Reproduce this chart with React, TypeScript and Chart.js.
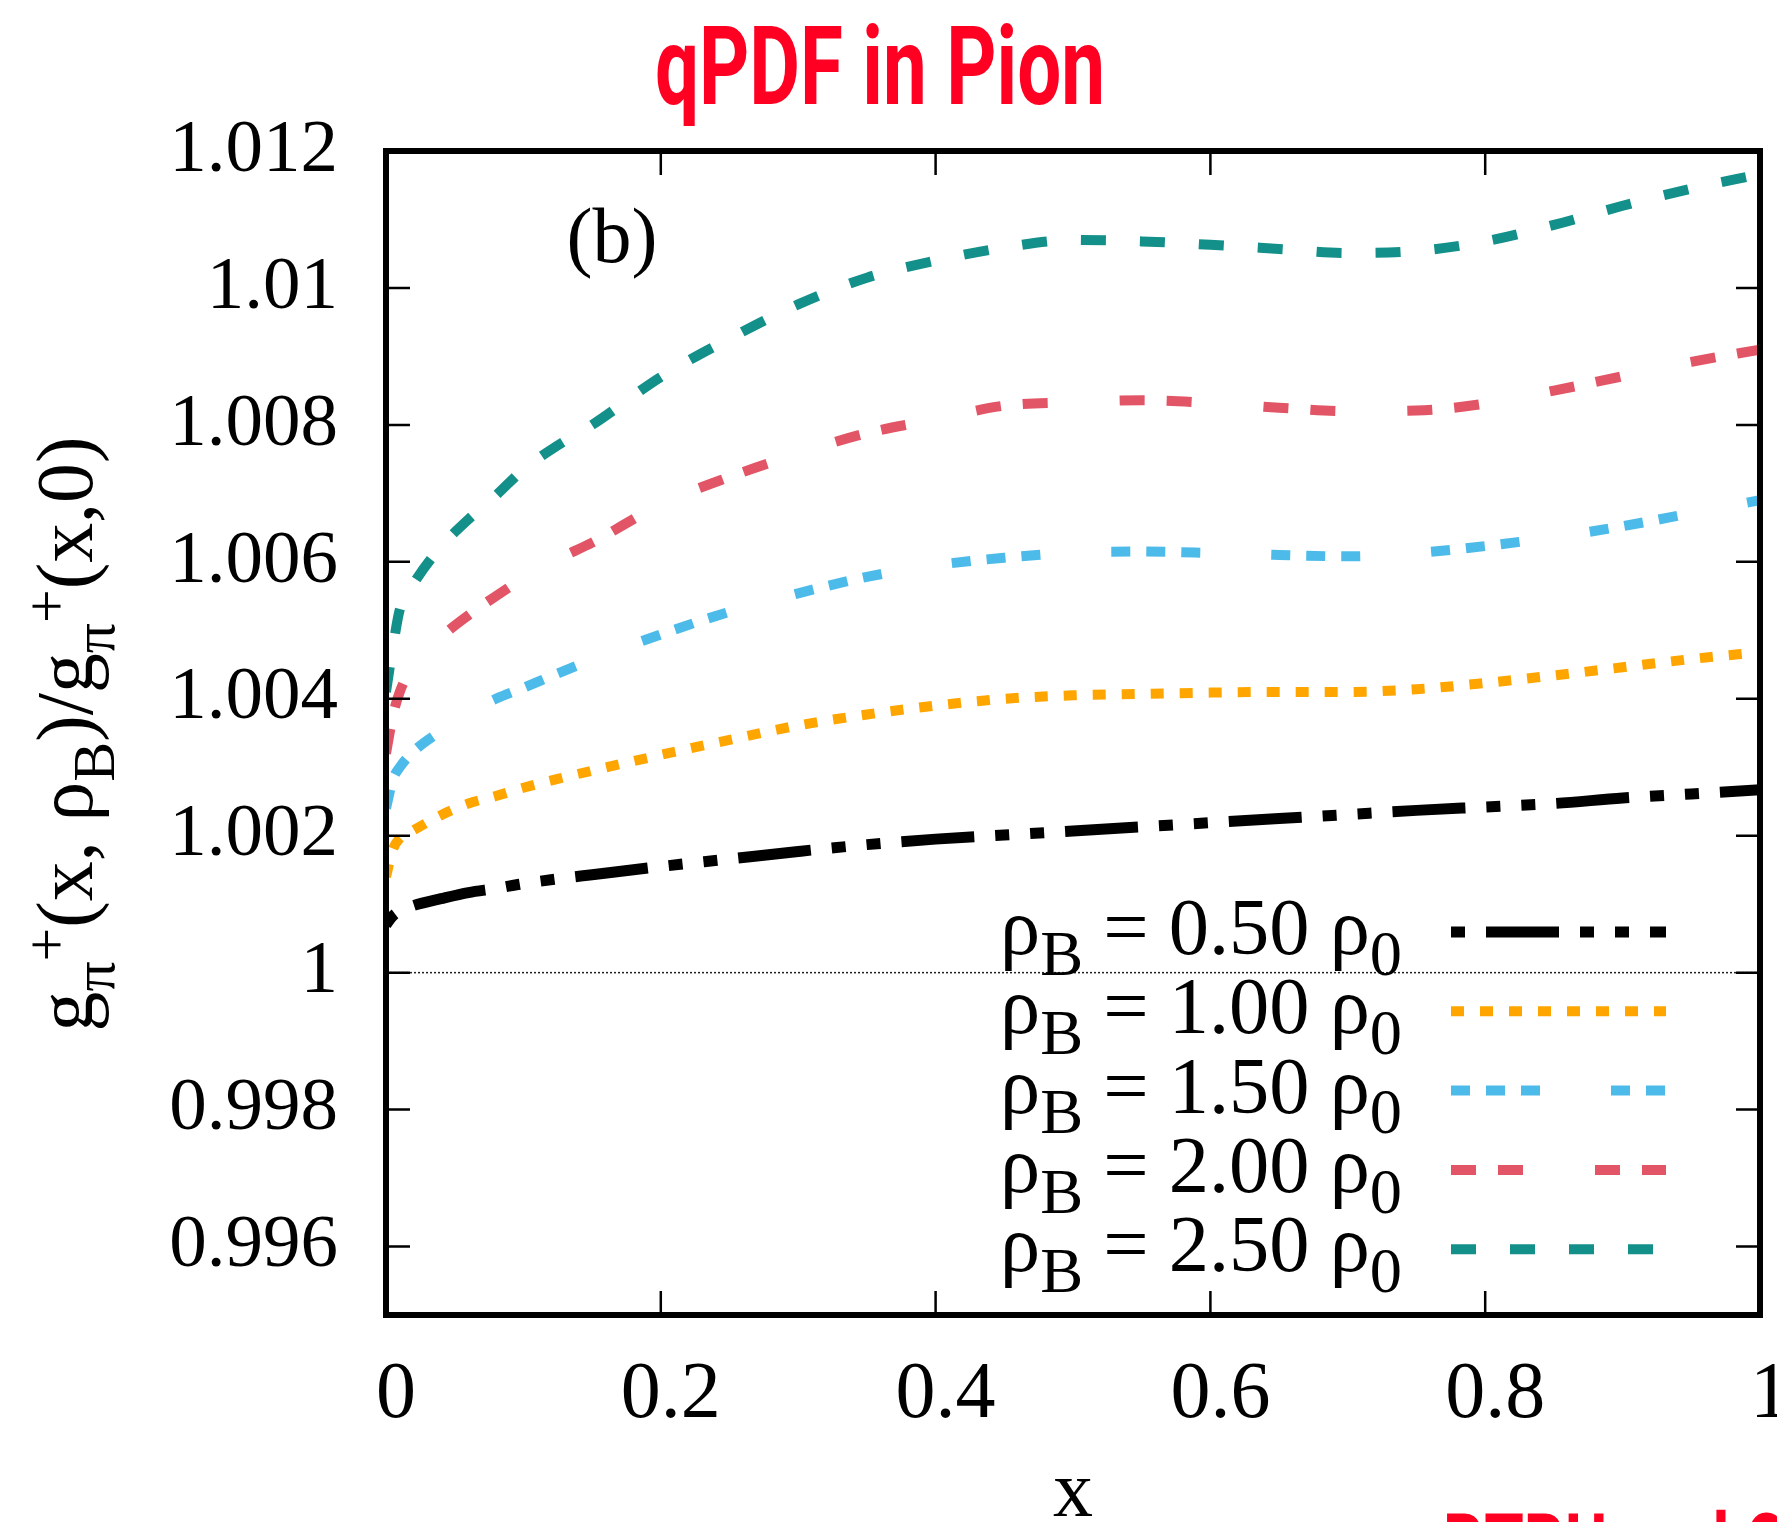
import React, { useEffect, useRef } from "react";
import { Chart, registerables } from "chart.js";

Chart.register(...registerables);

// ---------- data ----------
const xValues = [
  0, 0.005, 0.01, 0.02, 0.04, 0.06, 0.08, 0.1, 0.125, 0.15, 0.2, 0.25, 0.3, 0.35,
  0.4, 0.45, 0.5, 0.55, 0.6, 0.65, 0.7, 0.75, 0.8, 0.85, 0.9, 0.95, 1.0,
];

const rho050 = [
  1.0007, 1.00083, 1.0009, 1.00098, 1.00108, 1.00117, 1.00123, 1.0013, 1.00137, 1.00143,
  1.00155, 1.00166, 1.00177, 1.00187, 1.00195, 1.00201, 1.00207, 1.00213, 1.00219,
  1.00225, 1.00231, 1.00237, 1.00242, 1.00247, 1.00255, 1.00261, 1.00267,
];

const rho100 = [
  1.0014, 1.0018, 1.00196, 1.00208, 1.0023, 1.00247, 1.00258, 1.0027, 1.00283, 1.00295,
  1.00318, 1.0034, 1.00361, 1.00377, 1.0039, 1.004, 1.00405, 1.00407, 1.00409, 1.0041,
  1.0041, 1.00414, 1.00423, 1.00434, 1.00446, 1.00458, 1.00468,
];

const rho150 = [
  1.0024, 1.00282, 1.003, 1.00323, 1.00353, 1.0038, 1.004, 1.00416, 1.00437, 1.00457,
  1.00494, 1.00527, 1.00554, 1.00578, 1.00595, 1.00606, 1.00613, 1.00615, 1.00613,
  1.0061, 1.00608, 1.00613, 1.00623, 1.00636, 1.00652, 1.00671, 1.0069,
];

const rho200 = [
  1.0032, 1.00375, 1.0041, 1.00448, 1.0049, 1.00522, 1.0055, 1.00576, 1.00604, 1.00628,
  1.00684, 1.00724, 1.00758, 1.00788, 1.00808, 1.00828, 1.00833, 1.00836, 1.00832,
  1.00825, 1.0082, 1.00821, 1.00831, 1.0085, 1.00871, 1.00892, 1.0091,
];

const rho250 = [
  1.0041, 1.00475, 1.0053, 1.00568, 1.00622, 1.00662, 1.00697, 1.00735, 1.0077, 1.008,
  1.0087, 1.00926, 1.00976, 1.01015, 1.0104, 1.01059, 1.0107, 1.01068, 1.01063,
  1.01057, 1.01051, 1.01054, 1.01068, 1.01092, 1.0112, 1.01145, 1.01166,
];

const seriesValues = [rho050, rho100, rho150, rho200, rho250];
const seriesLabels = ["0.50", "1.00", "1.50", "2.00", "2.50"];

const xTickValues = [0, 0.2, 0.4, 0.6, 0.8, 1];
const xTickLabels = ["0", "0.2", "0.4", "0.6", "0.8", "1"];
const yTickValues = [0.996, 0.998, 1, 1.002, 1.004, 1.006, 1.008, 1.01, 1.012];
const yTickLabels = ["0.996", "0.998", "1", "1.002", "1.004", "1.006", "1.008", "1.01", "1.012"];

const titleText = "qPDF in Pion";
const panelText = "(b)";
const footerText = "PTPU and CQM";

// ---------- styles ----------
const seriesColors = ["#000000", "#ffa500", "#4dbbea", "#e15566", "#13908a"];
const seriesDash = [
  [73, 21, 14, 21, 14, 21],
  [13, 16],
  [19, 16, 19, 16, 19, 71],
  [25, 22, 25, 72],
  [25, 34],
];
const plotDashOffset = [129, 0, 0, 0, 0];
const legendDashOffset = [129, 0, 0, 0, 0];
const seriesWidth = [11, 10, 10, 10, 10];

const SERIF = '"Liberation Serif", "DejaVu Serif", "Times New Roman", serif';
const CONDENSED = '"Liberation Sans Narrow", "Roboto", "DejaVu Sans", sans-serif';

type Seg = { t: string; k?: "sub" | "sup" };

function drawRich(
  ctx: CanvasRenderingContext2D,
  segs: Seg[],
  x: number,
  y: number,
  size: number,
  subScale: number,
  subDrop: number,
  draw: boolean
): number {
  let cx = x;
  for (const s of segs) {
    const sz = s.k ? size * subScale : size;
    ctx.font = `${sz}px ${SERIF}`;
    const dy = s.k === "sub" ? size * subDrop : s.k === "sup" ? -size * 0.32 : 0;
    if (draw) ctx.fillText(s.t, cx, y + dy);
    cx += ctx.measureText(s.t).width;
  }
  return cx - x;
}

const decorPlugin = {
  id: "decor",
  beforeDatasetsDraw(chart: any) {
    const { ctx, chartArea } = chart;
    const y1 = chart.scales.y.getPixelForValue(1);
    ctx.save();
    ctx.strokeStyle = "#222";
    ctx.lineWidth = 1.5;
    ctx.setLineDash([2, 2]);
    ctx.beginPath();
    ctx.moveTo(chartArea.left, y1);
    ctx.lineTo(chartArea.right, y1);
    ctx.stroke();
    ctx.restore();
  },
  afterDatasetsDraw(chart: any) {
    const { ctx, chartArea } = chart;
    const { left, right, top, bottom } = chartArea;
    const xs = chart.scales.x;
    const ys = chart.scales.y;
    ctx.save();
    // inner ticks
    ctx.strokeStyle = "#000";
    ctx.lineWidth = 2.5;
    ctx.setLineDash([]);
    const tl = 24;
    for (const v of yTickValues) {
      const py = ys.getPixelForValue(v);
      ctx.beginPath();
      ctx.moveTo(left, py);
      ctx.lineTo(left + tl, py);
      ctx.moveTo(right, py);
      ctx.lineTo(right - tl, py);
      ctx.stroke();
    }
    for (const v of xTickValues) {
      const px = xs.getPixelForValue(v);
      ctx.beginPath();
      ctx.moveTo(px, bottom);
      ctx.lineTo(px, bottom - tl);
      ctx.moveTo(px, top);
      ctx.lineTo(px, top + tl);
      ctx.stroke();
    }
    // frame
    ctx.lineWidth = 6;
    ctx.strokeRect(left, top, right - left, bottom - top);

    // panel label
    ctx.fillStyle = "#000";
    ctx.font = `78px ${SERIF}`;
    ctx.textAlign = "center";
    ctx.textBaseline = "alphabetic";
    ctx.fillText(panelText, 612, 262);

    // legend
    ctx.textAlign = "left";
    const legX = 1000;
    const legW = 402;
    const baseY0 = 954;
    const rowH = 79.3;
    for (let i = 0; i < seriesLabels.length; i++) {
      const segs: Seg[] = [
        { t: "ρ" },
        { t: "B", k: "sub" },
        { t: ` = ${seriesLabels[i]} ρ` },
        { t: "0", k: "sub" },
      ];
      const by = baseY0 + i * rowH;
      const w = drawRich(ctx, segs, 0, 0, 80, 0.8, 0.26, false);
      const sx = Math.min(1.2, legW / w);
      ctx.save();
      ctx.translate(legX, by);
      ctx.scale(sx, 1);
      ctx.fillStyle = "#000";
      drawRich(ctx, segs, 0, 0, 80, 0.8, 0.26, true);
      ctx.restore();

      const ly = by - 22;
      ctx.save();
      ctx.strokeStyle = seriesColors[i];
      ctx.lineWidth = seriesWidth[i];
      ctx.lineCap = "butt";
      ctx.setLineDash(seriesDash[i]);
      ctx.lineDashOffset = legendDashOffset[i];
      ctx.beginPath();
      ctx.moveTo(1451, ly);
      ctx.lineTo(1666, ly);
      ctx.stroke();
      ctx.restore();
    }
    ctx.restore();
  },
  afterDraw(chart: any) {
    const { ctx, chartArea } = chart;
    ctx.save();
    // title
    ctx.fillStyle = "#ff0022";
    ctx.textBaseline = "alphabetic";
    ctx.textAlign = "left";
    ctx.font = `bold 110px ${CONDENSED}`;
    const tw = ctx.measureText(titleText).width;
    const tsx = 450 / tw;
    ctx.save();
    ctx.translate(880 - 225, 104);
    ctx.scale(tsx, 1);
    ctx.fillText(titleText, 0, 0);
    ctx.restore();

    // footer (cut by the bottom edge)
    ctx.save();
    ctx.translate(1443, 1578);
    ctx.scale(tsx, 1);
    ctx.font = `bold 90px ${CONDENSED}`;
    ctx.fillText(footerText, 0, 0);
    ctx.restore();

    // y-axis label
    ctx.fillStyle = "#000";
    const ySegs: Seg[] = [
      { t: "g" },
      { t: "π", k: "sub" },
      { t: "+", k: "sup" },
      { t: "(x, ρ" },
      { t: "B", k: "sub" },
      { t: ")/g" },
      { t: "π", k: "sub" },
      { t: "+", k: "sup" },
      { t: "(x,0)" },
    ];
    const wy = drawRich(ctx, ySegs, 0, 0, 62, 0.75, 0.28, false);
    const fy = 62 * (595 / wy);
    const wy2 = drawRich(ctx, ySegs, 0, 0, fy, 0.75, 0.28, false);
    ctx.save();
    ctx.translate(92, 734);
    ctx.rotate(-Math.PI / 2);
    drawRich(ctx, ySegs, -wy2 / 2, 0, fy, 0.75, 0.28, true);
    ctx.restore();

    // x-axis label
    ctx.font = `80px ${SERIF}`;
    ctx.textAlign = "center";
    ctx.fillText("x", (chartArea.left + chartArea.right) / 2, 1516);
    ctx.restore();
  },
};

export default function App() {
  const canvasRef = useRef<HTMLCanvasElement>(null);

  useEffect(() => {
    const canvas = canvasRef.current;
    if (!canvas) return;
    const datasets = seriesValues.map((vals, i) => ({
      label: `rho_B = ${seriesLabels[i]} rho_0`,
      data: xValues.map((x, j) => ({ x, y: vals[j] })),
      borderColor: seriesColors[i],
      backgroundColor: seriesColors[i],
      borderWidth: seriesWidth[i],
      borderDash: seriesDash[i],
      borderDashOffset: plotDashOffset[i],
      borderCapStyle: "butt" as const,
      pointRadius: 0,
      fill: false,
      cubicInterpolationMode: "monotone" as const,
    }));

    const chart = new Chart(canvas, {
      type: "line",
      data: { datasets },
      options: {
        responsive: false,
        animation: false,
        devicePixelRatio: 1,
        layout: { padding: { left: 0, top: 151, right: 17, bottom: 0 } },
        plugins: {
          legend: { display: false },
          tooltip: { enabled: false },
          title: { display: false },
        },
        scales: {
          x: {
            type: "linear",
            min: 0,
            max: 1,
            grid: { display: false, drawTicks: false },
            border: { display: false },
            afterBuildTicks: (scale: any) => {
              scale.ticks = xTickValues.map((v) => ({ value: v }));
            },
            afterFit: (scale: any) => {
              scale.height = 207;
              scale.paddingLeft = 0;
              scale.paddingRight = 0;
            },
            ticks: {
              autoSkip: false,
              maxRotation: 0,
              minRotation: 0,
              padding: 33,
              labelOffset: 10,
              color: "#000",
              font: { family: SERIF, size: 80 },
              callback: (v: any) => {
                const i = xTickValues.findIndex((t) => Math.abs(t - Number(v)) < 1e-9);
                return i >= 0 ? xTickLabels[i] : "";
              },
            },
          },
          y: {
            type: "linear",
            min: 0.995,
            max: 1.012,
            grid: { display: false, drawTicks: false },
            border: { display: false },
            afterBuildTicks: (scale: any) => {
              scale.ticks = yTickValues.map((v) => ({ value: v }));
            },
            afterFit: (scale: any) => {
              scale.width = 386;
              scale.paddingTop = 0;
              scale.paddingBottom = 0;
            },
            ticks: {
              autoSkip: false,
              padding: 48,
              color: "#000",
              font: { family: SERIF, size: 75 },
              callback: (v: any) => {
                const i = yTickValues.findIndex((t) => Math.abs(t - Number(v)) < 1e-9);
                return i >= 0 ? yTickLabels[i] : "";
              },
            },
          },
        },
      },
      plugins: [decorPlugin],
    });
    return () => chart.destroy();
  }, []);

  return (
    <div
      style={{
        position: "fixed",
        left: 0,
        top: 0,
        width: 1777,
        height: 1522,
        background: "#fff",
        overflow: "hidden",
      }}
    >
      <canvas
        ref={canvasRef}
        width={1777}
        height={1522}
        style={{ width: 1777, height: 1522, display: "block" }}
      />
    </div>
  );
}
